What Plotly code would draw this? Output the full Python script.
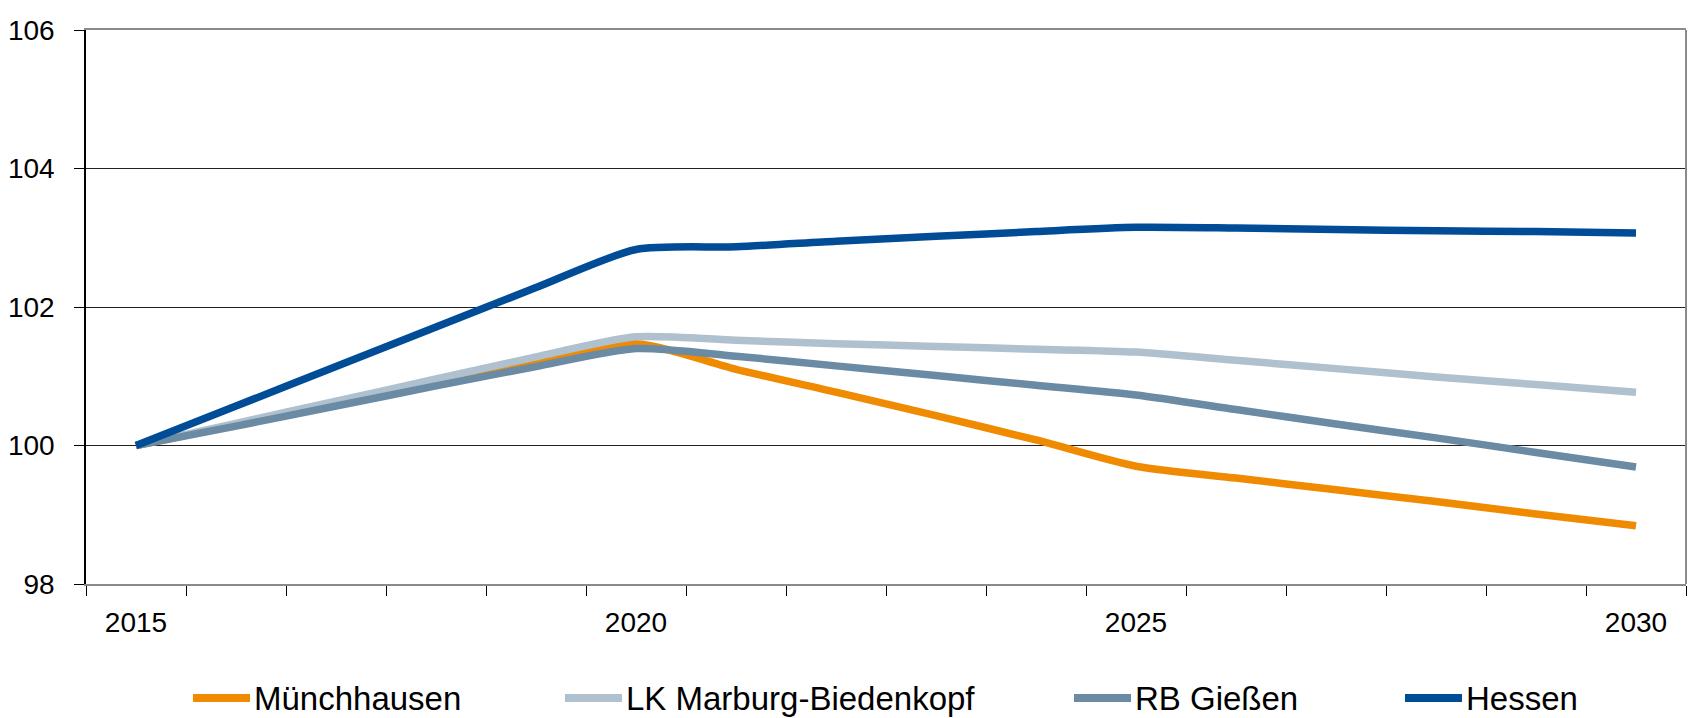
import plotly.graph_objects as go

# Index values (2015 = 100)
years = [str(y) for y in range(2015, 2031)]
muenchhausen = [100.0, 100.30, 100.60, 100.90, 101.18, 101.47, 101.10, 100.77, 100.43, 100.08,
                99.70, 99.53, 99.36, 99.19, 99.01, 98.84]
lk_marburg = [100.0, 100.32, 100.64, 100.96, 101.28, 101.57, 101.52, 101.47, 101.43, 101.39,
              101.35, 101.23, 101.11, 100.99, 100.88, 100.77]
rb_giessen = [100.0, 100.28, 100.57, 100.86, 101.14, 101.40, 101.29, 101.15, 101.01, 100.87,
              100.73, 100.52, 100.31, 100.11, 99.90, 99.69]
hessen = [100.0, 100.57, 101.14, 101.71, 102.28, 102.83, 102.87, 102.95, 103.02, 103.09,
          103.15, 103.14, 103.12, 103.10, 103.09, 103.07]

series_names = ["Münchhausen", "LK Marburg-Biedenkopf", "RB Gießen", "Hessen"]
series_values = [muenchhausen, lk_marburg, rb_giessen, hessen]
series_colors = ["#F08A00", "#AFC0CE", "#6B8AA4", "#004C97"]

year_labels = [y if int(y) % 5 == 0 else "" for y in years]
y_ticks = [98, 100, 102, 104, 106]

FONT = "Liberation Sans Narrow, Arial Narrow, Liberation Sans, Arial, sans-serif"

fig = go.Figure()
for name, vals, col in zip(series_names, series_values, series_colors):
    fig.add_trace(go.Scatter(
        x=years, y=vals, name=name, mode="lines",
        line=dict(color=col, width=7.5, shape="spline", smoothing=0.7),
        showlegend=False,
    ))

# Custom legend below the plot: a short coloured bar followed by the name
W, H = 1690, 718
L, R, T, B = 86, 4, 30, 134
plot_w = W - L - R
plot_h = H - T - B
legend_start_px = [193, 565, 1074, 1405]
legend_y = (T + plot_h - 698) / plot_h
shapes = []
annotations = []
for name, col, x0 in zip(series_names, series_colors, legend_start_px):
    p0 = (x0 - L) / plot_w
    p1 = (x0 + 57 - L) / plot_w
    shapes.append(dict(type="line", xref="paper", yref="paper",
                       x0=p0, x1=p1, y0=legend_y, y1=legend_y,
                       line=dict(color=col, width=8)))
    annotations.append(dict(text=name, xref="paper", yref="paper",
                            x=(x0 + 59 - L) / plot_w, y=legend_y,
                            xanchor="left", yanchor="middle", showarrow=False,
                            font=dict(family=FONT, size=33, color="#000000")))

# right-hand plot border
shapes.append(dict(type="line", xref="paper", yref="paper", x0=1, x1=1, y0=0, y1=1,
                   line=dict(color="#8A8A8A", width=2)))

fig.update_layout(
    width=W, height=H,
    margin=dict(l=L, r=R, t=T, b=B),
    paper_bgcolor="white", plot_bgcolor="white",
    font=dict(family=FONT, size=28, color="#000000"),
    shapes=shapes, annotations=annotations,
    showlegend=False,
)
fig.update_xaxes(
    type="category", tickmode="array", tickvals=years, ticktext=year_labels,
    range=[-0.5, len(years) - 0.5],
    tickson="boundaries", ticks="outside", ticklen=10, tickcolor="#000000", tickwidth=1,
    showgrid=False, showline=True, linecolor="#8A8A8A", linewidth=2, mirror=True,
    tickfont=dict(size=28), ticklabelstandoff=12,
)
fig.update_yaxes(
    range=[98, 106], tickvals=y_ticks, ticks="outside", ticklen=10, tickcolor="#000000",
    showgrid=True, gridcolor="#222222", gridwidth=1,
    showline=True, linecolor="#000000", linewidth=1.5, zeroline=False,
    tickfont=dict(size=28), ticklabelstandoff=14,
)

fig.write_html("out.html")
